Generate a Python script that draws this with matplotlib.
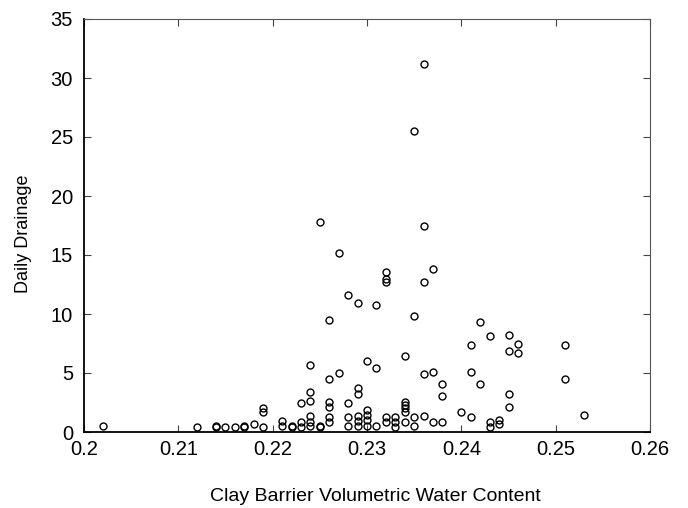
import matplotlib
matplotlib.use("Agg")
import matplotlib.pyplot as plt

# Clay barrier volumetric water content vs. daily drainage
water_content = [
    0.202, 0.212, 0.214, 0.214, 0.215, 0.216, 0.217, 0.217, 0.218, 0.219,
    0.219, 0.219, 0.221, 0.221, 0.222, 0.222, 0.223, 0.223, 0.223, 0.224,
    0.224, 0.224, 0.224, 0.224, 0.224, 0.225, 0.225, 0.225, 0.226, 0.226,
    0.226, 0.226, 0.226, 0.226, 0.227, 0.227, 0.228, 0.228, 0.228, 0.228,
    0.229, 0.229, 0.229, 0.229, 0.229, 0.229, 0.230, 0.230, 0.230, 0.230,
    0.230, 0.231, 0.231, 0.231, 0.232, 0.232, 0.232, 0.232, 0.232, 0.233,
    0.233, 0.233, 0.234, 0.234, 0.234, 0.234, 0.234, 0.234, 0.235, 0.235,
    0.235, 0.235, 0.236, 0.236, 0.236, 0.236, 0.236, 0.237, 0.237, 0.237,
    0.238, 0.238, 0.238, 0.240, 0.241, 0.241, 0.241, 0.242, 0.242, 0.243,
    0.243, 0.243, 0.244, 0.244, 0.245, 0.245, 0.245, 0.245, 0.246, 0.246,
    0.251, 0.251, 0.253,
]
daily_drainage = [
    0.5, 0.45, 0.4, 0.5, 0.45, 0.45, 0.4, 0.5, 0.7, 0.45,
    1.7, 2.0, 0.55, 0.9, 0.4, 0.5, 0.45, 0.85, 2.5, 0.5,
    0.85, 1.35, 2.65, 3.4, 5.7, 0.4, 0.5, 17.8, 0.85, 1.3,
    2.15, 2.55, 4.5, 9.5, 5.0, 15.2, 0.5, 1.25, 2.5, 11.6,
    0.5, 0.95, 1.35, 3.25, 3.75, 10.9, 0.55, 1.0, 1.45, 1.85,
    6.0, 0.55, 5.4, 10.8, 0.85, 1.3, 12.7, 13.0, 13.6, 0.45,
    0.85, 1.3, 0.85, 1.7, 2.0, 2.3, 2.55, 6.4, 0.5, 1.3,
    9.8, 25.5, 1.35, 4.9, 12.7, 17.5, 31.2, 0.85, 5.1, 13.8,
    0.85, 3.05, 4.05, 1.7, 1.3, 5.05, 7.4, 4.05, 9.35, 0.45,
    0.85, 8.15, 0.65, 1.05, 2.15, 3.2, 6.9, 8.2, 6.7, 7.5,
    4.5, 7.4, 1.45,
]

x_ticks = [0.20, 0.21, 0.22, 0.23, 0.24, 0.25, 0.26]
x_tick_labels = ["0.2", "0.21", "0.22", "0.23", "0.24", "0.25", "0.26"]
y_ticks = [0, 5, 10, 15, 20, 25, 30, 35]

plt.rcParams["font.family"] = ["Liberation Sans", "DejaVu Sans"]

fig = plt.figure(figsize=(6.88, 5.08), dpi=100)
ax = fig.add_axes([84 / 688, 76 / 508, 566 / 688, 413 / 508])

ax.plot(water_content, daily_drainage, linestyle="none", marker="o",
        markersize=5.0, markerfacecolor="none", markeredgecolor="black",
        markeredgewidth=1.0)

ax.set_xlim(0.2, 0.26)
ax.set_ylim(0, 35)
ax.set_xticks(x_ticks)
ax.set_xticklabels(x_tick_labels)
ax.set_yticks(y_ticks)

ax.tick_params(axis="both", direction="in", length=5, width=0.8,
               labelsize=14.5, top=True, right=True, color="#444444")
ax.tick_params(axis="x", pad=6)
ax.tick_params(axis="y", pad=8)

for side in ("left", "bottom"):
    ax.spines[side].set_linewidth(1.3)
    ax.spines[side].set_color("black")
for side in ("top", "right"):
    ax.spines[side].set_linewidth(0.8)
    ax.spines[side].set_color("#555555")

ax.set_xlabel("Clay Barrier Volumetric Water Content", fontsize=14)
ax.set_ylabel("Daily Drainage", fontsize=13)
ax.xaxis.set_label_coords(0.514, -0.135)
ax.yaxis.set_label_coords(-0.092, 0.479)

fig.savefig("out.png", dpi=100)
